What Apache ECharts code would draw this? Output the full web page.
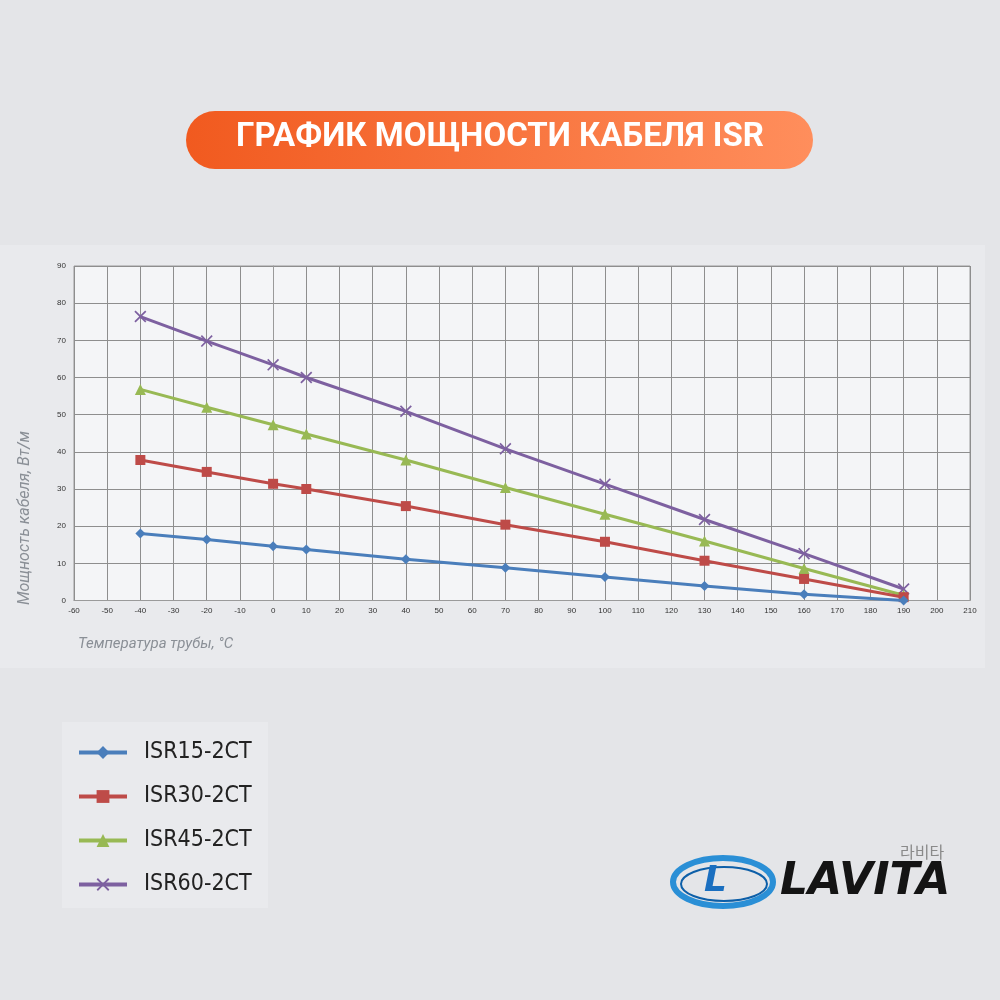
<!DOCTYPE html>
<html><head><meta charset="utf-8">
<script src="https://cdn.jsdelivr.net/npm/echarts@6/dist/echarts.min.js"></script>
<style>html,body{margin:0;padding:0;background:#e4e5e8;}#c{width:1000px;height:1000px;}</style>
</head><body><div id="c"></div>
<script>
const temps = [-40, -20, 0, 10, 40, 70, 100, 130, 160, 190];
const isr15 = [18.0, 16.4, 14.6, 13.7, 11.1, 8.8, 6.3, 3.9, 1.7, 0];
const isr30 = [37.8, 34.6, 31.4, 30.0, 25.4, 20.4, 15.8, 10.7, 5.8, 0.9];
const isr45 = [56.8, 52.0, 47.3, 44.8, 37.8, 30.4, 23.2, 16.0, 8.6, 1.4];
const isr60 = [76.4, 69.8, 63.4, 60.0, 50.9, 40.8, 31.3, 21.8, 12.6, 3.1];
const seriesNames = ['ISR15-2CT', 'ISR30-2CT', 'ISR45-2CT', 'ISR60-2CT'];
const colors = ['#4a7ebb', '#be4b48', '#98b954', '#7d60a0'];
const symbols = ['diamond', 'rect', 'triangle', 'path://M0,1L1,0L5,4L9,0L10,1L6,5L10,9L9,10L5,6L1,10L0,9L4,5Z'];
const symbolSizes = [10, 10, 11, 12];
const titleText = 'ГРАФИК МОЩНОСТИ КАБЕЛЯ ISR';
const xAxisName = 'Температура трубы, °C';
const yAxisName = 'Мощность кабеля, Вт/м';

const allData = [isr15, isr30, isr45, isr60];
const chart = echarts.init(document.getElementById('c'), null, {renderer: 'canvas'});
chart.setOption({
  backgroundColor: '#e4e5e8',
  animation: false,
  graphic: [
    {type: 'rect', left: 0, top: 245, shape: {width: 985, height: 423}, style: {fill: '#e9eaed'}, z: -10},
    {type: 'rect', left: 62, top: 722, shape: {width: 206, height: 186}, style: {fill: '#e9eaed'}, z: -10},
    {type: 'rect', left: 186, top: 111, shape: {width: 627, height: 58, r: 29},
      style: {fill: new echarts.graphic.LinearGradient(0, 0, 1, 0, [{offset: 0, color: '#f15a1f'}, {offset: 1, color: '#ff8e5c'}])}, z: 1},
    {type: 'text', left: 'center', top: 121, style: {text: titleText, fill: '#ffffff', font: 'bold 33px Roboto'}, z: 2},
    {type: 'text', x: 25, y: 518, rotation: Math.PI / 2,
      style: {text: yAxisName, fill: '#8a8f96', font: 'italic 16px Roboto', align: 'center', verticalAlign: 'middle'}, z: 2},
    // logo
    {type: 'ellipse', shape: {cx: 723, cy: 882, rx: 50, ry: 24}, style: {fill: 'none', stroke: '#2a8fd6', lineWidth: 6}, z: 2},
    {type: 'ellipse', shape: {cx: 724, cy: 884, rx: 43, ry: 17}, style: {fill: 'none', stroke: '#0d5fa8', lineWidth: 2}, z: 2},
    {type: 'text', left: 704, top: 864, style: {text: 'L', fill: '#1a6fc0', font: 'italic bold 36px "DejaVu Sans"'}, z: 3},
    {type: 'text', left: 780, top: 861, style: {text: 'LAVITA', fill: '#141414', font: 'italic 900 44px "DejaVu Sans"'}, z: 3},
    {type: 'text', left: 900, top: 844, style: {text: '라비타', fill: '#8a8a8a', font: '16px "Noto Sans CJK KR"'}, z: 3}
  ],
  legend: {
    orient: 'vertical', left: 72, top: 736, itemWidth: 48, itemHeight: 16, itemGap: 21,
    lineStyle: {width: 4},
    textStyle: {fontSize: 23, color: '#222', fontFamily: '"Liberation Sans Narrow", "DejaVu Sans Condensed", Roboto', padding: [0, 0, 0, 12]},
    data: seriesNames
  },
  grid: {left: 74, right: 30, top: 266, bottom: 399.5, show: true, backgroundColor: '#f4f5f7', borderColor: '#9a9a9a', borderWidth: 1},
  xAxis: {
    type: 'value', min: -60, max: 210, interval: 10,
    name: xAxisName, nameLocation: 'start', nameGap: 0,
    nameTextStyle: {fontStyle: 'italic', color: '#8a8f96', fontSize: 15, fontFamily: 'Roboto', align: 'left', verticalAlign: 'top', padding: [36, 0, 0, 4]},
    axisLine: {lineStyle: {color: '#9a9a9a'}},
    axisTick: {show: false},
    axisLabel: {fontSize: 8, color: '#333', margin: 6},
    splitLine: {lineStyle: {color: '#8e8e8e', width: 1}}
  },
  yAxis: {
    type: 'value', min: 0, max: 90, interval: 10,
    axisLine: {show: true, lineStyle: {color: '#9a9a9a'}},
    axisTick: {show: false},
    axisLabel: {fontSize: 8, color: '#333', margin: 8},
    splitLine: {lineStyle: {color: '#8e8e8e', width: 1}}
  },
  series: seriesNames.map((n, i) => ({
    name: n, type: 'line', clip: false,
    data: temps.map((t, j) => [t, allData[i][j]]),
    symbol: symbols[i], symbolSize: symbolSizes[i], showAllSymbol: true,
    lineStyle: {color: colors[i], width: 3},
    itemStyle: {color: colors[i]},
    z: 3 + (3 - i)
  }))
});
</script></body></html>
